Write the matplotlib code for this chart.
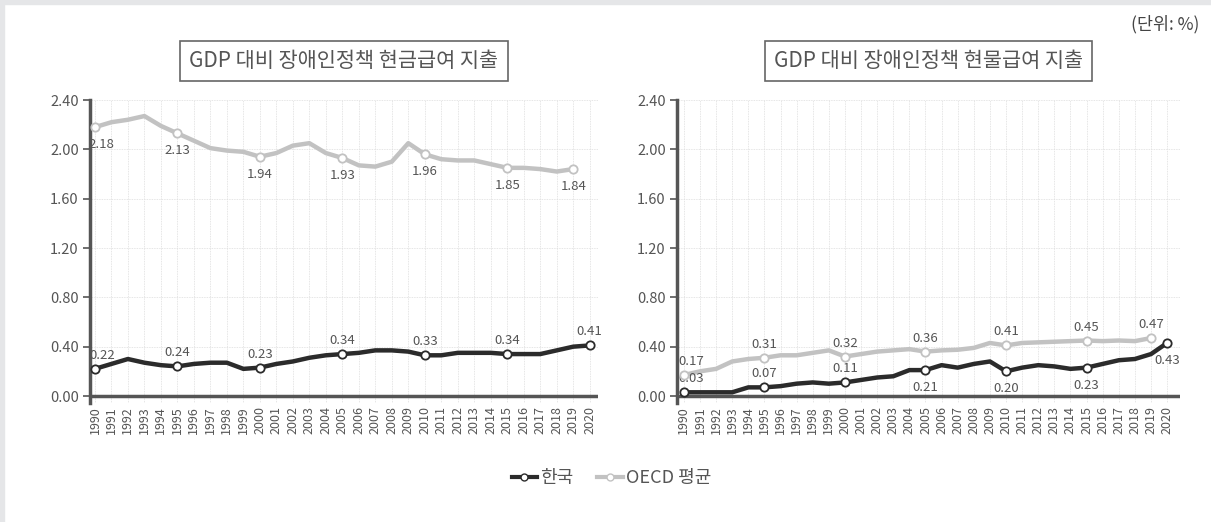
import matplotlib.pyplot as plt
from matplotlib.patches import Rectangle
from matplotlib.lines import Line2D

plt.rcParams['font.family'] = ['Noto Sans CJK KR', 'DejaVu Sans']

# 연도
years = list(range(1990, 2021))

# 현금급여 (GDP 대비 %)
korea_cash = [0.22, 0.26, 0.30, 0.27, 0.25, 0.24, 0.26, 0.27, 0.27, 0.22,
              0.23, 0.26, 0.28, 0.31, 0.33, 0.34, 0.35, 0.37, 0.37, 0.36,
              0.33, 0.33, 0.35, 0.35, 0.35, 0.34, 0.34, 0.34, 0.37, 0.40, 0.41]
oecd_cash = [2.18, 2.22, 2.24, 2.27, 2.19, 2.13, 2.07, 2.01, 1.99, 1.98,
             1.94, 1.97, 2.03, 2.05, 1.97, 1.93, 1.87, 1.86, 1.90, 2.05,
             1.96, 1.92, 1.91, 1.91, 1.88, 1.85, 1.85, 1.84, 1.82, 1.84, None]

# 현물급여 (GDP 대비 %)
korea_kind = [0.03, 0.03, 0.03, 0.03, 0.07, 0.07, 0.08, 0.10, 0.11, 0.10,
              0.11, 0.13, 0.15, 0.16, 0.21, 0.21, 0.25, 0.23, 0.26, 0.28,
              0.20, 0.23, 0.25, 0.24, 0.22, 0.23, 0.26, 0.29, 0.30, 0.34, 0.43]
oecd_kind = [0.17, 0.20, 0.22, 0.28, 0.30, 0.31, 0.33, 0.33, 0.35, 0.37,
             0.32, 0.34, 0.36, 0.37, 0.38, 0.36, 0.37, 0.375, 0.39, 0.43,
             0.41, 0.43, 0.435, 0.44, 0.445, 0.45, 0.445, 0.45, 0.445, 0.47, None]

korea_label_years = [1990, 1995, 2000, 2005, 2010, 2015, 2020]
oecd_label_years = [1990, 1995, 2000, 2005, 2010, 2015, 2019]
yticks = [0.0, 0.4, 0.8, 1.2, 1.6, 2.0, 2.4]

titles = ["GDP 대비 장애인정책 현금급여 지출", "GDP 대비 장애인정책 현물급여 지출"]

KOR = '#2b2b2b'
OECD = '#c2c2c2'
TXT = '#555555'

fig = plt.figure(figsize=(12.11, 5.22), dpi=100)
fig.patches.append(Rectangle((0, 0.992), 1, 0.008, transform=fig.transFigure,
                             color='#e5e6e8', zorder=0))
fig.patches.append(Rectangle((0, 0), 0.0035, 1, transform=fig.transFigure,
                             color='#e5e6e8', zorder=0))

ax1 = fig.add_axes([0.0743, 0.2272, 0.4195, 0.5812])
ax2 = fig.add_axes([0.559, 0.2272, 0.4154, 0.5812])


def draw_series(ax, vals, color, label_years, below_years, zorder):
    xs = [y for y, v in zip(years, vals) if v is not None]
    vs = [v for v in vals if v is not None]
    ax.plot(xs, vs, color=color, lw=3.2, solid_joinstyle='round', zorder=zorder)
    mv = [vs[xs.index(y)] for y in label_years]
    ax.plot(label_years, mv, 'o', ms=6, mfc='white', mec=color, mew=1.3, zorder=zorder + 1)
    for y, v in zip(label_years, mv):
        dx = 5 if y == 1990 else 0
        if y in below_years:
            ax.annotate(f"{v:.2f}", (y, v), xytext=(dx, -8), textcoords='offset points',
                        ha='center', va='top', fontsize=9.5, color=TXT)
        else:
            ax.annotate(f"{v:.2f}", (y, v), xytext=(dx, 5), textcoords='offset points',
                        ha='center', va='bottom', fontsize=9.5, color=TXT)


def style(ax, xlim, title):
    ax.set_xlim(*xlim)
    ax.set_ylim(-0.06, 2.40)
    ax.set_yticks(yticks)
    ax.set_yticklabels([f"{t:.2f}" for t in yticks])
    ax.set_xticks(years)
    ax.set_xticklabels([str(y) for y in years], rotation=90)
    ax.tick_params(axis='x', length=0, labelsize=9, labelcolor=TXT, pad=2)
    ax.tick_params(axis='y', length=5, width=1.2, color='#555555',
                   labelsize=10.5, labelcolor=TXT, pad=3)
    ax.grid(True, color='#dddddd', lw=0.6, ls=(0, (1, 1)))
    ax.set_axisbelow(True)
    for s in ['top', 'right', 'bottom']:
        ax.spines[s].set_visible(False)
    ax.spines['left'].set_color('#555555')
    ax.spines['left'].set_linewidth(2.5)
    ax.axhline(0, color='#555555', lw=2.5, zorder=2)
    ax.text(0.5, 1.129, title, transform=ax.transAxes, ha='center', va='center',
            fontsize=15, color=TXT,
            bbox=dict(boxstyle='square,pad=0.45', fc='white', ec='#666666', lw=1.2))


style(ax1, (1989.7, 2020.5), titles[0])
style(ax2, (1989.57, 2020.8), titles[1])

draw_series(ax1, oecd_cash, OECD, oecd_label_years, oecd_label_years, 3)
draw_series(ax1, korea_cash, KOR, korea_label_years, [], 5)
draw_series(ax2, oecd_kind, OECD, oecd_label_years, [], 3)
draw_series(ax2, korea_kind, KOR, korea_label_years, [2005, 2010, 2015, 2020], 5)

handles = [
    Line2D([], [], color=KOR, lw=3, marker='o', ms=5, mfc='white', mec=KOR),
    Line2D([], [], color=OECD, lw=3, marker='o', ms=5, mfc='white', mec=OECD),
]
fig.legend(handles, ['한국', 'OECD 평균'], loc='center', bbox_to_anchor=(0.505, 0.084),
           ncol=2, frameon=False, fontsize=13, handlelength=1.4, handletextpad=0.2,
           columnspacing=1.3, labelcolor=TXT)

fig.text(0.99, 0.953, "(단위: %)", ha='right', va='center', fontsize=12.5, color='#444444')

fig.savefig('out.png', dpi=100)
